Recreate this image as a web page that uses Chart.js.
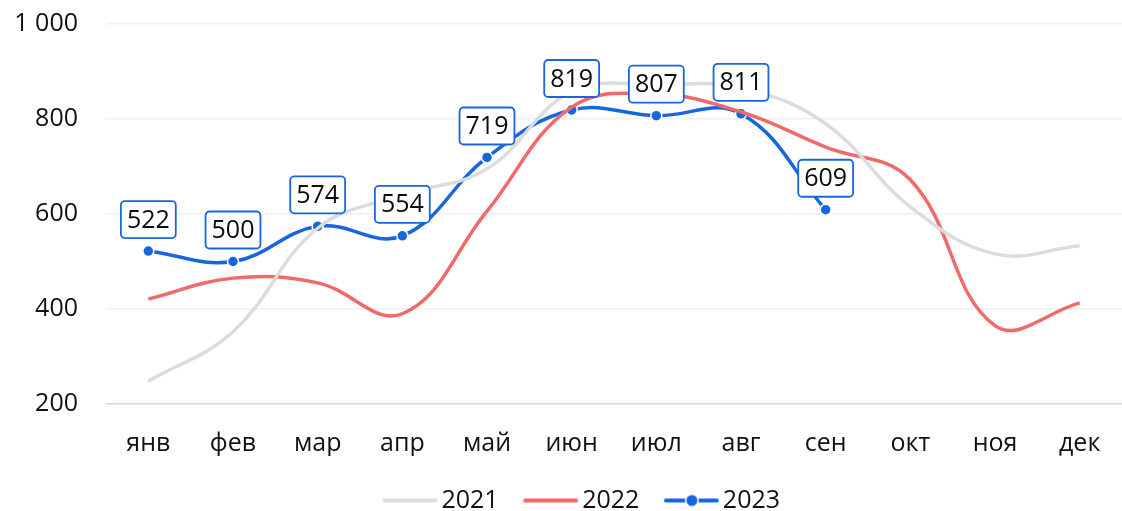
<!DOCTYPE html>
<html><head><meta charset="utf-8">
<script src="https://cdn.jsdelivr.net/npm/chart.js@4/dist/chart.umd.min.js"></script>
<style>html,body{margin:0;padding:0;background:#fff;}#wrap{width:1122px;height:511px;}</style>
</head><body><div id="wrap"><canvas id="c" width="1122" height="511"></canvas></div>
<script>
const categories = ['янв','фев','мар','апр','май','июн','июл','авг','сен','окт','ноя','дек'];
const seriesNames = ['2021','2022','2023'];
const values2021 = [248, 352, 570, 640, 695, 858, 872, 865, 790, 615, 516, 533];
const values2022 = [421, 465, 455, 390, 606, 825, 852, 815, 741, 672, 365, 413];
const values2023 = [522, 500, 574, 554, 719, 819, 807, 811, 609];
const yTicks = [200, 400, 600, 800, 1000];

const FONT = "'Open Sans', 'Noto Sans', sans-serif";
const FS = 25;
const BLUE = '#1766e0', RED = '#f06a6a', GRAY = '#dcdcdc';

function lineIcon(color, dot) {
  const c = document.createElement('canvas');
  c.width = 58; c.height = 14;
  const x = c.getContext('2d');
  x.strokeStyle = color; x.lineWidth = 4; x.lineCap = 'round';
  x.beginPath(); x.moveTo(4, 7); x.lineTo(55, 7); x.stroke();
  if (dot) {
    x.fillStyle = '#fff'; x.beginPath(); x.arc(30, 7, 7, 0, Math.PI*2); x.fill();
    x.fillStyle = color; x.beginPath(); x.arc(30, 7, 5.5, 0, Math.PI*2); x.fill();
  }
  return c;
}

const labelPlugin = {
  id: 'boxLabels',
  afterLayout(chart) {
    if (chart.legend) { chart.legend.left += 22; chart.legend.right += 22; }
  },
  afterDatasetsDraw(chart) {
    const ctx = chart.ctx;
    const meta = chart.getDatasetMeta(2);
    const data = chart.data.datasets[2].data;
    ctx.save();
    ctx.font = FS + 'px ' + FONT;
    ctx.textAlign = 'center';
    ctx.textBaseline = 'middle';
    meta.data.forEach((pt, i) => {
      const txt = String(data[i]);
      const w = ctx.measureText(txt).width + 12;
      const h = 37;
      const cx = pt.x, bottom = pt.y - 13;
      const left = cx - w/2, top = bottom - h;
      ctx.beginPath();
      ctx.roundRect(left, top, w, h, 4);
      ctx.fillStyle = '#fff';
      ctx.fill();
      ctx.lineWidth = 1.8;
      ctx.strokeStyle = BLUE;
      ctx.stroke();
      ctx.fillStyle = '#0a0a0a';
      ctx.fillText(txt, cx, top + h/2 + 1);
    });
    ctx.restore();
  }
};

new Chart(document.getElementById('c'), {
  type: 'line',
  data: {
    labels: categories,
    datasets: [
      { label: seriesNames[0], data: values2021, borderColor: GRAY, backgroundColor: GRAY, borderWidth: 3.5, pointRadius: 0, tension: 0.4, pointStyle: lineIcon(GRAY, false) },
      { label: seriesNames[1], data: values2022, borderColor: RED, backgroundColor: RED, borderWidth: 3.5, pointRadius: 0, tension: 0.4, pointStyle: lineIcon(RED, false) },
      { label: seriesNames[2], data: values2023, borderColor: BLUE, backgroundColor: BLUE, borderWidth: 3.5, pointRadius: 5.5, pointBorderColor: '#fff', pointBorderWidth: 1.5, pointBackgroundColor: BLUE, tension: 0.4, pointStyle: 'circle' }
    ]
  },
  options: {
    responsive: false,
    animation: false,
    devicePixelRatio: 1,
    layout: { autoPadding: false, padding: { top: 24, left: 0, right: -4, bottom: -12 } },
    plugins: {
      tooltip: { enabled: false },
      legend: {
        position: 'bottom',
        labels: {
          usePointStyle: true,
          pointStyleWidth: 39,
          color: '#111',
          font: { family: FONT, size: FS },
          padding: 32,
          generateLabels(chart) {
            return chart.data.datasets.map((d, i) => ({
              text: d.label,
              pointStyle: i === 2 ? lineIcon(BLUE, true) : d.pointStyle,
              fillStyle: d.borderColor, strokeStyle: d.borderColor, lineWidth: 0,
              fontColor: '#111', hidden: false, datasetIndex: i
            }));
          }
        }
      }
    },
    scales: {
      x: {
        offset: true,
        grid: { display: false, drawTicks: false },
        border: { display: true, color: '#d9d9e6', width: 1.5 },
        ticks: { color: '#111', font: { family: FONT, size: FS }, padding: 25, maxRotation: 0 },
        afterFit(axis) { axis.paddingLeft = 0; axis.paddingRight = -4; axis.height = 52; }
      },
      y: {
        min: 200, max: 1000,
        afterBuildTicks(axis) { axis.ticks = yTicks.map(v => ({ value: v })); },
        grid: { color: '#efeff5', lineWidth: 1.5, drawTicks: false },
        border: { display: false },
        ticks: {
          color: '#111', font: { family: FONT, size: FS }, padding: 28,
          callback: v => String(v).replace(/\B(?=(\d{3})+(?!\d))/g, ' ')
        },
        afterFit(axis) { axis.width = 106; axis.paddingTop = 0; axis.paddingBottom = 0; axis.paddingLeft = 0; axis.paddingRight = -4; }
      }
    }
  },
  plugins: [labelPlugin]
});
</script></body></html>
